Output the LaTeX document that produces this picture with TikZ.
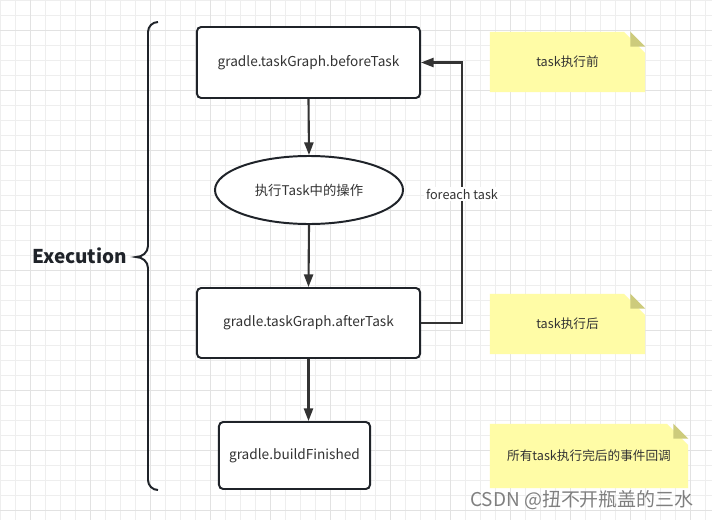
\documentclass[tikz,border=0pt]{standalone}
\usepackage{fontspec}
\setmainfont{Noto Sans CJK SC}
\usetikzlibrary{shapes.geometric,shapes.misc,arrows.meta,calc}

\definecolor{linecol}{HTML}{1F2329}
\definecolor{arrowcol}{HTML}{333333}
\definecolor{textcol}{HTML}{333333}
\definecolor{notecol}{HTML}{FFFCA6}
\definecolor{foldcol}{HTML}{CDCB7C}
\definecolor{gridminor}{HTML}{EEEEEE}
\definecolor{gridmajor}{HTML}{E2E2E2}
\definecolor{markcol}{HTML}{7F7F7F}

\tikzset{
  stepbox/.style={draw=linecol, line width=1.4pt, rounded corners=3pt, fill=white,
    text=textcol, font=\fontsize{9.7}{11}\selectfont, inner sep=0pt},
  actionnode/.style={ellipse, draw=linecol, line width=1.4pt, fill=white,
    text=textcol, font=\fontsize{9.5}{11}\selectfont, inner sep=0pt},
  flow/.style={draw=arrowcol, line width=1.5pt, -{Triangle[length=9pt,width=6.5pt]}},
  notebox/.style={chamfered rectangle, chamfered rectangle corners=north east,
    chamfered rectangle xsep=0.375cm, chamfered rectangle ysep=0.375cm,
    fill=notecol, text=textcol, font=\fontsize{9}{11}\selectfont, inner sep=0pt},
}

\begin{document}
\begin{tikzpicture}[x=0.025cm, y=-0.025cm]
        \useasboundingbox (0,0) rectangle (712,520);
        \fill[white] (0,0) rectangle (712,520);

        % background grid
        \foreach \x in {0,15,...,705} \draw[gridminor, line width=0.6pt] (\x,0) -- (\x,520);
        \foreach \y in {0,15,...,515} \draw[gridminor, line width=0.6pt] (0,\y) -- (712,\y);
        \foreach \x in {30,90,...,690} \draw[gridmajor, line width=0.7pt] (\x,0) -- (\x,520);
        \foreach \y in {30,90,...,510} \draw[gridmajor, line width=0.7pt] (0,\y) -- (712,\y);

        % Execution brace
        \draw[linecol, line width=1.4pt] (158,22) to[out=180,in=90] (148,32) -- (148,246)
            to[out=-90,in=0] (136,257) to[out=0,in=90] (148,268) -- (148,480)
            to[out=-90,in=180] (158,490);
        \node[text=linecol, font=\fontsize{13.5}{15}\selectfont\bfseries, anchor=east] (exec) at (132,256) {Execution};

        % steps
        \node[stepbox, minimum width=5.575cm, minimum height=1.775cm] (before) at (308.5,62.5) {gradle.taskGraph.beforeTask};
        \node[actionnode, minimum width=4.7cm, minimum height=1.7cm] (action) at (309,190) {执行Task中的操作};
        \node[stepbox, minimum width=5.575cm, minimum height=1.75cm] (after) at (308.5,323) {gradle.taskGraph.afterTask};
        \node[stepbox, minimum width=3.775cm, minimum height=1.675cm] (finished) at (294.5,455.5) {gradle.buildFinished};

        % arrows
        \draw[flow] (before.south) -- (action.north);
        \draw[flow] (action.south) -- (after.north);
        \draw[flow] (after.south) -- (after.south |- finished.north);

        % loop back
        \coordinate (loop) at (462,194);
        \draw[flow] (after.east) -| (loop) |- (before.east);
        \node[fill=white, text=textcol, font=\fontsize{9}{11}\selectfont, inner sep=1.5pt] (looplabel) at (loop) {foreach task};

        % notes
        \node[notebox, minimum width=3.875cm, minimum height=1.5cm] (beforenote) at (567.5,62) {task执行前};
        \node[notebox, minimum width=3.875cm, minimum height=1.5cm] (afternote) at (567.5,324) {task执行后};
        \node[notebox, minimum width=4.95cm, minimum height=1.6cm] (finishnote) at (589,456) {所有task执行完后的事件回调};
        \foreach \n in {beforenote,afternote,finishnote}
            \fill[foldcol] ($(\n.north -| \n.east)+(-15,0)$) -- ($(\n.north -| \n.east)+(-15,15)$) -- ($(\n.north -| \n.east)+(0,15)$) -- cycle;

        % watermark
        \node[text=markcol, font=\fontsize{13.5}{15}\selectfont, inner sep=0pt] (mark) at (582,500) {CSDN @扭不开瓶盖的三水};
    \end{tikzpicture}
\end{document}
